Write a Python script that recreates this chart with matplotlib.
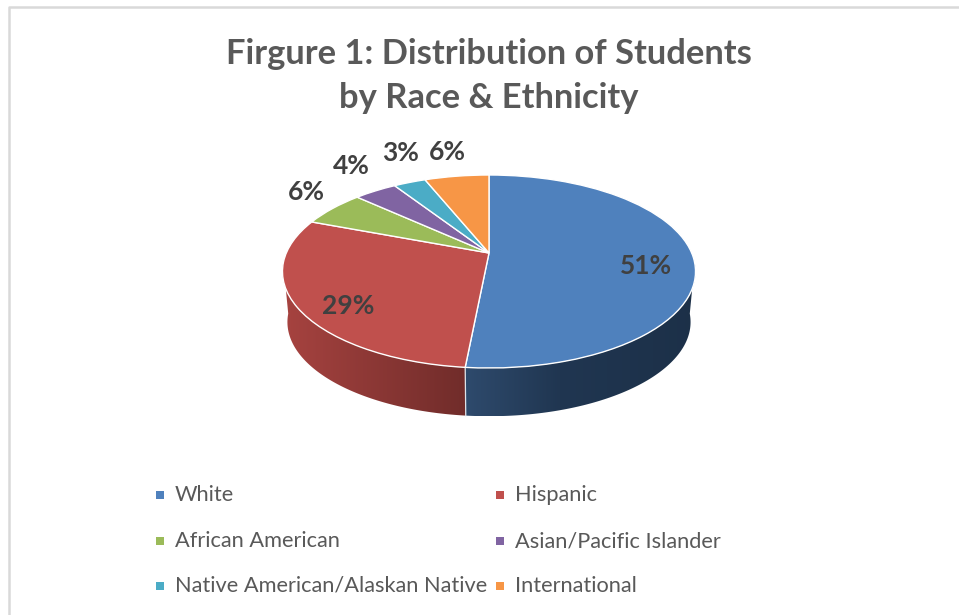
import numpy as np
import matplotlib
matplotlib.use('Agg')
import matplotlib.pyplot as plt
from matplotlib.patches import Polygon
from matplotlib.transforms import Transform

plt.rcParams['font.family'] = ['Lato', 'DejaVu Sans']

categories = ['White', 'Hispanic', 'African American', 'Asian/Pacific Islander',
              'Native American/Alaskan Native', 'International']
percents = [51, 29, 6, 4, 3, 6]
colors = ['#4F81BD', '#C0504D', '#9BBB59', '#8064A2', '#4BACC6', '#F79646']

# where the slices meet on screen, and the look of the tilted disc
apex_x, apex_y = 489.0, 253.0
persp = 0.1917
size_x, size_y = 202.7, 92.95
wall_scale, wall_drop = 0.976, 51.0


def project(u, v, scale=1.0, drop=0.0):
    w = 1 + persp * v
    return apex_x + scale * size_x * u / w, apex_y + drop - scale * size_y * v / w


class TiltTransform(Transform):
    input_dims = 2
    output_dims = 2

    def transform_non_affine(self, values):
        x, y = project(values[:, 0], values[:, 1])
        return np.column_stack([x, y])


fig = plt.figure(figsize=(9.59, 6.15), dpi=100, facecolor='white')
ax = fig.add_axes([0, 0, 1, 1])

wedges, _ = ax.pie(percents, colors=colors, startangle=90, counterclock=False,
                   wedgeprops={'edgecolor': 'white', 'linewidth': 1.0, 'zorder': 3})
ax.set_aspect('auto')
ax.axis('off')

tilt = TiltTransform() + ax.transData
for w in wedges:
    w.set_transform(tilt)


def draw_wall(a_from, a_to, stops_x, stops_rgb):
    angles = np.radians(np.linspace(a_from, a_to, 120))
    x_top, y_top = project(np.cos(angles), np.sin(angles))
    x_bot, y_bot = project(np.cos(angles), np.sin(angles), wall_scale, wall_drop)
    outline = np.column_stack([np.r_[x_top, x_bot[::-1]], np.r_[y_top, y_bot[::-1]]])
    x0, x1 = outline[:, 0].min(), outline[:, 0].max()
    y0, y1 = outline[:, 1].min(), outline[:, 1].max()
    xs = np.linspace(x0, x1, 400)
    grad = np.stack([np.interp(xs, stops_x, [s[i] for s in stops_rgb]) / 255 for i in range(3)], axis=-1)
    im = ax.imshow(grad[np.newaxis, :, :], extent=(x0, x1, y1, y0), aspect='auto', zorder=1)
    im.set_clip_path(Polygon(outline, closed=True, transform=ax.transData))


# the first wedge ends at its smaller angle, that is the blue/red split at the front
split = wedges[0].theta1
draw_wall(-6, split, [467, 560, 700], [(46, 74, 108), (32, 54, 81), (28, 48, 72)])
draw_wall(split, -174, [283, 467], [(167, 67, 64), (112, 44, 42)])
sx1, sy1 = project(np.cos(np.radians(split)), np.sin(np.radians(split)))
sx2, sy2 = project(np.cos(np.radians(split)), np.sin(np.radians(split)), wall_scale, wall_drop)
ax.plot([sx1, sx2], [sy1, sy2], color='#DDE3EA', lw=0.9, zorder=2)

# frame, only top and left show
ax.plot([9, 9, 959], [615, 6.5, 6.5], color='#D9D9D9', lw=1.8, zorder=0)

ax.set_xlim(0, 959)
ax.set_ylim(615, 0)

ax.text(489, 54, 'Firgure 1: Distribution of Students', ha='center', va='center',
        fontsize=24.8, fontweight='bold', color='#595959')
ax.text(489, 98, 'by Race & Ethnicity', ha='center', va='center',
        fontsize=24.8, fontweight='bold', color='#595959')

label_x = [646, 348, 306, 351, 401, 447]
label_y = [266, 306, 192, 166, 153, 152]
for v, x, y in zip(percents, label_x, label_y):
    ax.text(x, y, f'{v}%', ha='center', va='center', fontsize=19, fontweight='bold', color='#404040')

legend_x = [159.5, 499.5]
legend_y = [495, 541, 586]
for i, (name, c) in enumerate(zip(categories, colors)):
    lx = legend_x[i % 2]
    ly = legend_y[i // 2]
    ax.scatter([lx], [ly - 0.5], marker='s', s=26, color=c, linewidths=0, zorder=3)
    ax.text(lx + 15.5, ly, name, ha='left', va='center', fontsize=15.7, color='#595959')

plt.savefig('out.png', dpi=100)
